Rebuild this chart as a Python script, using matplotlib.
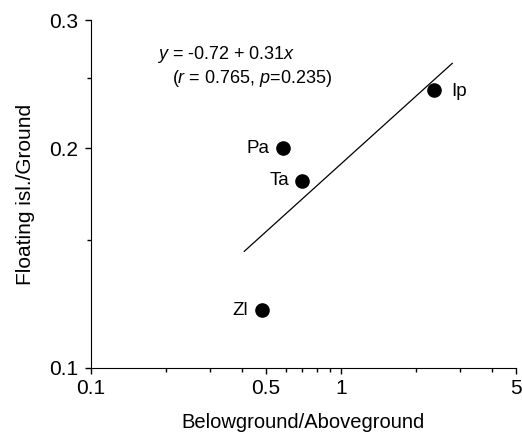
import numpy as np
import matplotlib.pyplot as plt
from matplotlib.ticker import FixedLocator, NullFormatter

plt.rcParams['font.family'] = ['Liberation Sans', 'DejaVu Sans']
plt.rcParams['mathtext.fontset'] = 'custom'
plt.rcParams['mathtext.rm'] = 'Liberation Sans'
plt.rcParams['mathtext.it'] = 'Liberation Sans:italic'

# data
names = ['Pa', 'Ta', 'Ip', 'Zl']
below_above = [0.586, 0.698, 2.355, 0.483]
floating_ground = [0.200, 0.1806, 0.2406, 0.120]
intercept = -0.72
slope = 0.31
fit_range = [0.41, 2.78]

fig = plt.figure(figsize=(5.22, 4.37), dpi=100)
ax = fig.add_axes([0.1743, 0.1579, 0.8142, 0.7963])

ax.plot(below_above, floating_ground, 'o', color='black', markersize=9.5)

xf = np.array(fit_range)
yf = 10 ** (intercept + slope * np.log10(xf))
ax.plot(xf, yf, color='black', lw=0.9)

# label positions (offset in points)
offs = {'Pa': (-9.5, 0, 'right'), 'Ta': (-9, 0, 'right'),
        'Ip': (12, -1, 'left'), 'Zl': (-10, 0, 'right')}
for n, x, y in zip(names, below_above, floating_ground):
    dx, dy, ha = offs[n]
    ax.annotate(n, (x, y), xytext=(dx, dy), textcoords='offset points',
                ha=ha, va='center', fontsize=13.5)

ax.set_xscale('log')
ax.set_yscale('log')
ax.set_xlim(0.1, 5)
ax.set_ylim(0.1, 0.3)

ax.xaxis.set_major_locator(FixedLocator([0.1, 0.5, 1, 5]))
ax.xaxis.set_minor_locator(FixedLocator([0.2, 0.3, 0.4, 0.6, 0.7, 0.8, 0.9, 2, 3, 4]))
ax.set_xticklabels(['0.1', '0.5', '1', '5'])
ax.xaxis.set_minor_formatter(NullFormatter())
ax.yaxis.set_major_locator(FixedLocator([0.1, 0.2, 0.3]))
ax.yaxis.set_minor_locator(FixedLocator([0.15, 0.25]))
ax.set_yticklabels(['0.1', '0.2', '0.3'])
ax.yaxis.set_minor_formatter(NullFormatter())

ax.tick_params(which='major', length=4, width=1, labelsize=15, direction='out')
ax.tick_params(axis='x', which='major', pad=4)
ax.tick_params(axis='y', which='major', pad=5)
ax.tick_params(which='minor', length=3, width=1, direction='out')

ax.spines['top'].set_visible(False)
ax.spines['right'].set_visible(False)

ax.set_xlabel('Belowground/Aboveground', fontsize=14.5, labelpad=11)
ax.set_ylabel('Floating isl./Ground', fontsize=15, labelpad=10)

ax.text(0.155, 0.90, r'$\it{y}$ = -0.72 + 0.31$\it{x}$', transform=ax.transAxes,
        fontsize=13, va='center', ha='left')
ax.text(0.19, 0.833, r'($\it{r}$ = 0.765, $\it{p}$=0.235)', transform=ax.transAxes,
        fontsize=13, va='center', ha='left')

fig.savefig('out.png', dpi=100)
